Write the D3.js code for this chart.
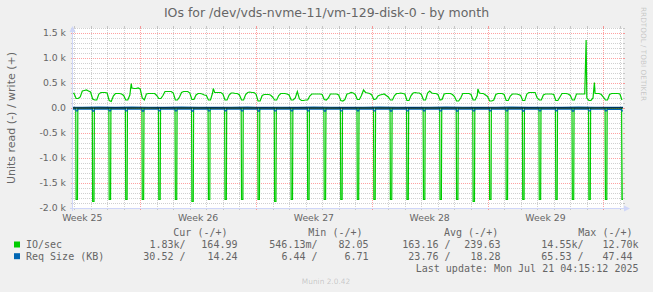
<!doctype html>
<html>
<head>
<meta charset="utf-8"/>
<title>IOs for /dev/vds-nvme-11/vm-129-disk-0 - by month</title>
<script src="https://cdn.jsdelivr.net/npm/d3@7"></script>
<style>
body { margin: 0; background: #f0f0f0; }
svg { display: block; }
</style>
</head>
<body>
<script>
// time window of the month graph (UTC)
var startTime = "2025-06-17T22:30:00Z";
var endTime = "2025-07-21T04:30:00Z";

// write IO/sec, one value every 3 hours from writeStart
var writeStart = "2025-06-17T21:00:00Z";
var writeIO = [
  300,
  290,190,190,220,340,350,360,340, // Jun 18
  320,180,160,160,280,310,310,310,
  300,150,130,240,290,290,290,280,
  250,160,160,260,400,390,390,400,
  380,200,160,280,290,290,290,290, // Jun 22
  250,190,190,250,330,330,330,330,
  300,160,160,220,310,330,330,330,
  300,170,170,260,290,290,280,260,
  250,160,160,300,310,310,310,310,
  280,160,160,260,300,300,290,290,
  260,160,160,270,310,320,310,310,
  280,140,140,250,270,270,270,260, // Jun 29
  220,160,160,250,290,290,290,280,
  260,160,160,200,330,180,150,150,
  160,160,240,280,280,280,280,280,
  270,170,160,200,280,280,280,280,
  260,150,140,170,280,290,310,300,
  270,170,170,250,360,310,300,290,
  260,170,180,240,260,270,280,250, // Jul 6
  220,160,160,250,290,290,300,290,
  280,150,150,250,300,310,300,300,
  270,160,160,300,340,300,290,290,
  270,160,170,280,290,290,290,270,
  230,140,140,200,290,290,290,290,
  270,160,160,250,300,290,290,260,
  230,140,140,160,270,290,290,290, // Jul 13
  270,150,150,240,280,280,280,270,
  250,150,150,280,310,310,310,310,
  200,160,160,260,280,280,280,280,
  270,150,150,220,290,290,290,280,
  250,160,160,280,280,280,280,280,
  200,150,150,200,290,290,290,270,
  220,160,160,270,290,290,290,290, // Jul 20
  280,160
];
// short write peaks
var writePeakTimes = ["2025-06-21T11:00:00Z", "2025-06-26T10:00:00Z", "2025-07-12T10:00:00Z", "2025-07-18T23:00:00Z", "2025-07-19T11:00:00Z"];
var writePeakValues = [490, 390, 380, 1360, 510];

// read IO/sec: a burst every night around 03:00, one per day from readStart
var readStart = "2025-06-18T03:00:00Z";
var readBurst = [
  1830,1870,1830,1830,1830,1830,1830,1870,1830,1830,1830,1830,1870,
  1830,1830,1830,1830,1830,1830,1830,1830,1830,1830,1830,1870,1830,
  1830,1830,1830,1830,1830,1830,1830,1830
];

// request size (KB), one value per day from Jun 18
var reqWrite = [15,16,14,17,15,14,16,15,14,15,16,14,15,14,16,15,14,15,16,15,14,15,16,15,14,15,16,14,15,14,16,15,14,14];
var reqRead = [22,24,23,22,25,23,22,24,23,22,23,24,22,23,24,22,23,22,24,23,22,23,24,23,22,23,24,22,23,22,24,23,25,30];
var reqReadBurst = [60,62,58,60,61,59,60,62,60,58,60,61,60,59,60,62,60,58,60,61,60,59,60,62,60,58,60,61,60,59,65,60,58,60];

var yTicks = [-2000, -1500, -1000, -500, 0, 500, 1000, 1500];
var yTickLabels = ["-2.0 k", "-1.5 k", "-1.0 k", "-0.5 k", "0.0", "0.5 k", "1.0 k", "1.5 k"];

// legend table
var legendNames = ["IO/sec", "Req Size (KB)"];
var curRead = [1830, 30.52], curWrite = [164.99, 14.24];
var minRead = [0.54613, 6.44], minWrite = [82.05, 6.71];
var avgRead = [163.16, 23.76], avgWrite = [239.63, 18.28];
var maxRead = [14550, 65.53], maxWrite = [12700, 47.44];
var lastUpdate = "Last update: Mon Jul 21 04:15:12 2025";

var W = 653, H = 292;
var pLeft = 73, pRight = 623, pTop = 28, pBottom = 208;
var grey = "rgba(128,128,128,0.37)", red = "rgba(255,0,0,0.37)";
var green = "#00cc00", blue = "#0066b3", textCol = "#666666";

var svg = d3.select("body").append("svg")
    .attr("width", W)
    .attr("height", H)
    .style("font-family", "'DejaVu Sans', sans-serif");

svg.append("rect").attr("width", W).attr("height", H).attr("fill", "#f0f0f0");

var x = d3.scaleUtc().domain([new Date(startTime), new Date(endTime)]).range([pLeft, pRight]);
var y = d3.scaleLinear().domain([-2000, 1600]).range([pBottom, pTop]);
var px = function(v) { return Math.round(v) + 0.5; };

svg.append("rect")
    .attr("x", pLeft).attr("y", pTop)
    .attr("width", pRight - pLeft).attr("height", pBottom - pTop)
    .attr("fill", "#fff");

// grid
var grid = svg.append("g").attr("fill", "none").attr("stroke-width", 1);

var minorY = d3.range(-2000, 1601, 100).filter(function(v) { return v % 500 !== 0; });
function hLines(vals, col) {
  vals.forEach(function(v) {
    var yy = px(y(v));
    grid.append("line").attr("x1", pLeft).attr("x2", pRight).attr("y1", yy).attr("y2", yy)
        .attr("stroke", col).attr("stroke-dasharray", "1,1");
    grid.append("line").attr("x1", pLeft - 2).attr("x2", pLeft).attr("y1", yy).attr("y2", yy).attr("stroke", col);
    grid.append("line").attr("x1", pRight).attr("x2", pRight + 2).attr("y1", yy).attr("y2", yy).attr("stroke", col);
  });
}
hLines(minorY, grey);
hLines(yTicks, red);

var days = d3.utcDay.range(x.domain()[0], x.domain()[1]).filter(function(d) { return d.getUTCDay() !== 0; });
var weeks = d3.utcSunday.range(x.domain()[0], x.domain()[1]);
function vLines(vals, col) {
  vals.forEach(function(d) {
    var xx = px(x(d));
    grid.append("line").attr("x1", xx).attr("x2", xx).attr("y1", pTop).attr("y2", pBottom)
        .attr("stroke", col).attr("stroke-dasharray", "1,1");
    grid.append("line").attr("x1", xx).attr("x2", xx).attr("y1", pBottom).attr("y2", pBottom + 2).attr("stroke", col);
    grid.append("line").attr("x1", xx).attr("x2", xx).attr("y1", pTop - 2).attr("y2", pTop).attr("stroke", col);
  });
}
vLines(days, grey);
vLines(weeks, red);

// series
svg.append("clipPath").attr("id", "plot")
  .append("rect").attr("x", pLeft).attr("y", pTop - 1).attr("width", pRight - pLeft).attr("height", pBottom - pTop + 2);
var plot = svg.append("g").attr("clip-path", "url(#plot)");
var line = d3.line().x(function(d) { return x(d[0]); }).y(function(d) { return y(d[1]); });

var readPts = [];
readBurst.forEach(function(v, i) {
  var t = d3.utcDay.offset(new Date(readStart), i);
  readPts.push([d3.utcMinute.offset(t, -30), 0], [t, -v], [d3.utcHour.offset(t, 2), -v], [d3.utcMinute.offset(t, 150), 0]);
});
readPts.unshift([x.domain()[0], 0]);

var writePts = writeIO.map(function(v, i) { return [d3.utcHour.offset(new Date(writeStart), 3 * i), v]; });
writePeakTimes.forEach(function(t, i) { writePts.push([new Date(t), writePeakValues[i]]); });
writePts.sort(function(a, b) { return a[0] - b[0]; });

plot.append("path").attr("d", line(readPts)).attr("fill", "none").attr("stroke", green).attr("stroke-width", 1.2);
plot.append("path").attr("d", line(writePts)).attr("fill", "none").attr("stroke", green).attr("stroke-width", 1.2);

var reqReadPts = [], reqWritePts = [];
reqRead.forEach(function(v, i) {
  var day = d3.utcDay.offset(new Date("2025-06-18T00:00:00Z"), i);
  var t = d3.utcHour.offset(day, 3);
  reqReadPts.push([day, -v], [d3.utcMinute.offset(t, -30), -v], [t, -reqReadBurst[i]],
                  [d3.utcHour.offset(t, 2), -reqReadBurst[i]], [d3.utcMinute.offset(t, 150), -v]);
  reqWritePts.push([d3.utcHour.offset(day, 12), reqWrite[i]]);
});
reqReadPts.unshift([x.domain()[0], -reqRead[0]]);
reqWritePts.unshift([x.domain()[0], reqWrite[0]]);

plot.append("path").attr("d", line(reqReadPts)).attr("fill", "none").attr("stroke", blue).attr("stroke-width", 1.2);
plot.append("path").attr("d", line(reqWritePts)).attr("fill", "none").attr("stroke", blue).attr("stroke-width", 1.2);

svg.append("line").attr("x1", pLeft).attr("x2", pRight).attr("y1", y(0)).attr("y2", y(0))
    .attr("stroke", "#000").attr("stroke-width", 1);

// axes
var axisCol = "#cfd6f8";
svg.append("line").attr("x1", pLeft - 0.5).attr("x2", pLeft - 0.5).attr("y1", pBottom + 3).attr("y2", pTop - 1)
    .attr("stroke", axisCol);
svg.append("path").attr("d", "M69.5,32L72.5,26L75.5,32Z").attr("fill", axisCol);
svg.append("line").attr("x1", pLeft - 3).attr("x2", pRight + 4).attr("y1", pBottom + 0.5).attr("y2", pBottom + 0.5)
    .attr("stroke", axisCol);
svg.append("path").attr("d", "M624,205.5L630,208.5L624,211.5Z").attr("fill", axisCol);

// y tick labels
svg.append("g").selectAll("text").data(yTicks).enter().append("text")
    .attr("x", 66)
    .attr("y", function(d) { return y(d) + 3.4; })
    .attr("text-anchor", "end")
    .attr("font-size", "9.3px")
    .attr("fill", textCol)
    .text(function(d, i) { return yTickLabels[i]; });

// week labels, centred on each Sunday-to-Sunday week
var weekFmt = d3.utcFormat("Week %V");
var labelTimes = d3.utcSunday.range(d3.utcSunday.offset(x.domain()[0], -1), x.domain()[1])
    .map(function(d) { return d3.utcHour.offset(d, 84); })
    .filter(function(d) { return x(d) > pLeft - 20 && x(d) < pRight; });
svg.append("g").selectAll("text").data(labelTimes).enter().append("text")
    .attr("x", function(d) { return x(d); })
    .attr("y", 220.7)
    .attr("text-anchor", "middle")
    .attr("font-size", "9.3px")
    .attr("fill", textCol)
    .text(function(d) { return weekFmt(d); });

// title and side texts
svg.append("text").attr("x", 326.5).attr("y", 17).attr("text-anchor", "middle")
    .attr("font-size", "12.5px").attr("fill", textCol)
    .text("IOs for /dev/vds-nvme-11/vm-129-disk-0 - by month");
svg.append("text").attr("transform", "translate(15.3,118) rotate(-90)").attr("text-anchor", "middle")
    .attr("font-size", "11px").attr("fill", textCol)
    .text("Units read (-) / write (+)");
svg.append("text").attr("transform", "translate(640.5,7) rotate(90)")
    .attr("font-size", "7.3px").attr("fill", textCol).attr("fill-opacity", 0.3)
    .text("RRDTOOL / TOBI OETIKER");
svg.append("text").attr("x", 326).attr("y", 284).attr("text-anchor", "middle")
    .attr("font-size", "7.4px").attr("fill", textCol).attr("fill-opacity", 0.3)
    .text("Munin 2.0.42");

// legend
function si(v) {
  if (v >= 1000) return (v / 1000).toFixed(2) + "k";
  if (v < 1) return (v * 1000).toFixed(2) + "m";
  return v.toFixed(2) + " ";
}
var leg = svg.append("g")
    .style("font-family", "'DejaVu Sans Mono', monospace")
    .attr("font-size", "10px")
    .attr("fill", textCol);
var headers = ["Cur (-/+)", "Min (-/+)", "Avg (-/+)", "Max (-/+)"];
var headerX = [173.3, 308.3, 444, 578.3];
headers.forEach(function(h, i) {
  leg.append("text").attr("x", headerX[i]).attr("y", 236.3).text(h);
});
var rowY = [248, 259.7];
var readEnd = [185.5, 317.5, 450.5, 583.5], writeEnd = [243.5, 374.5, 506.5, 638.5];
var legendColors = [green, blue];
legendNames.forEach(function(name, r) {
  leg.append("rect").attr("x", 14).attr("y", rowY[r] - 6.5).attr("width", 6).attr("height", 6)
      .attr("fill", legendColors[r]);
  leg.append("text").attr("x", 26).attr("y", rowY[r]).text(name);
  var reads = [curRead[r], minRead[r], avgRead[r], maxRead[r]];
  var writes = [curWrite[r], minWrite[r], avgWrite[r], maxWrite[r]];
  reads.forEach(function(v, c) {
    leg.append("text").attr("x", readEnd[c]).attr("y", rowY[r]).attr("text-anchor", "end")
        .attr("xml:space", "preserve").style("white-space", "pre").text(si(v) + "/");
  });
  writes.forEach(function(v, c) {
    leg.append("text").attr("x", writeEnd[c]).attr("y", rowY[r]).attr("text-anchor", "end")
        .attr("xml:space", "preserve").style("white-space", "pre").text(si(v));
  });
});
leg.append("text").attr("x", 638.5).attr("y", 271.5).attr("text-anchor", "end").text(lastUpdate);
</script>
</body>
</html>
